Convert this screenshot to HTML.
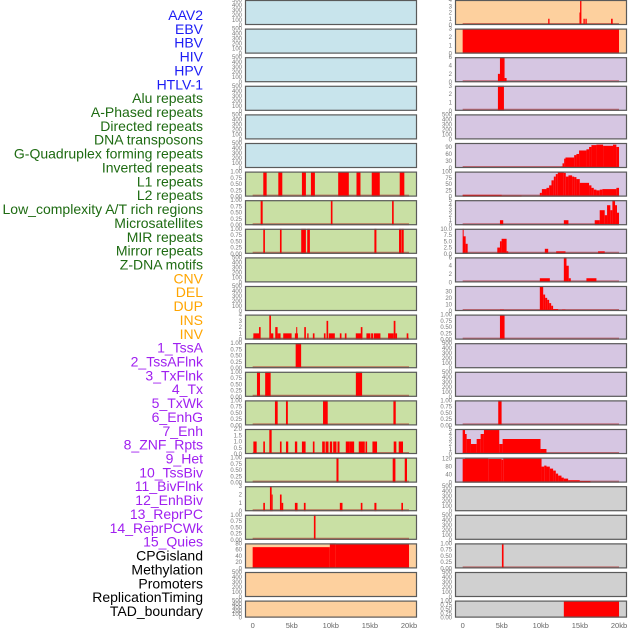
<!DOCTYPE html>
<html><head><meta charset="utf-8"><style>
html,body{margin:0;padding:0;background:#fff;}
svg{display:block;font-family:"Liberation Sans",sans-serif;}
</style></head><body>
<svg id="chart" width="630" height="630" viewBox="0 0 630 630"></svg>
<script>
const trackLabels = ["AAV2","EBV","HBV","HIV","HPV","HTLV-1","Alu repeats","A-Phased repeats","Directed repeats","DNA transposons","G-Quadruplex forming repeats","Inverted repeats","L1 repeats","L2 repeats","Low_complexity A/T rich regions","Microsatellites","MIR repeats","Mirror repeats","Z-DNA motifs","CNV","DEL","DUP","INS","INV","1_TssA","2_TssAFlnk","3_TxFlnk","4_Tx","5_TxWk","6_EnhG","7_Enh","8_ZNF_Rpts","9_Het","10_TssBiv","11_BivFlnk","12_EnhBiv","13_ReprPC","14_ReprPCWk","15_Quies","CPGisland","Methylation","Promoters","ReplicationTiming","TAD_boundary"];
const labelGroupSizes = [6,13,5,15,5];
const labelGroupColors = ["#1c1cf5","#1e6b12","#ffa500","#a020f0","#000000"];
const xTicks = [0,5,10,15,20];
const xTickLabels = ["0","5kb","10kb","15kb","20kb"];

// bars: [startKb, endKb, value]
const barsL6 = [[1.36,1.79,1],[3.28,3.79,1],[6.3,6.81,1],[7.45,7.96,1],[10.94,12.3,1],[13.28,13.79,1],[15.23,16.26,1],[18.81,19.4,1]];
const barsL7 = [[1.02,1.28,1],[10.0,10.21,1],[17.83,18.04,1]];
const barsL8 = [[1.36,1.57,1],[3.49,3.7,1],[6.21,6.81,1],[6.98,7.32,1],[15.57,15.83,1],[18.72,19.02,1],[19.06,19.32,1]];
const barsL11 = [[0.09,0.94,1],[0.81,1.02,2],[2.13,2.34,4],[2.34,2.64,1],[2.89,3.19,2],[3.19,3.36,1],[3.36,3.57,1],[3.91,4.98,1],[5.4,5.79,1],[5.57,5.7,2],[6.6,6.81,2],[6.98,7.15,1],[7.7,7.91,1],[9.11,9.32,1],[9.45,9.66,3],[9.74,10.51,1],[11.15,11.36,1],[11.79,12.0,1],[13.19,14.0,1],[13.83,14.04,2],[14.55,15.06,1],[15.15,15.4,1],[15.49,16.34,1],[17.32,18.04,1],[18.04,18.26,3],[18.26,18.47,1],[19.7,19.91,1]];
const barsL12 = [[5.5,6.2,1]];
const barsL13 = [[0.55,0.94,1],[1.6,2.3,1],[13.2,14.0,1]];
const barsL14 = [[2.85,3.2,1],[4.26,4.5,1],[9.0,9.6,1],[18.0,18.3,1]];
const barsL15 = [[0.09,0.51,1],[1.36,1.57,1],[2.13,2.43,2],[3.49,3.7,1],[4.26,4.55,1],[5.4,5.7,1],[6.3,6.77,1],[7.7,7.91,1],[8.89,9.23,1],[9.32,9.7,1],[9.87,10.17,1],[10.3,10.72,1],[10.85,11.11,1],[11.91,12.43,1],[12.43,12.98,1],[13.57,14.34,1],[14.43,14.64,1],[15.32,15.91,1],[18.04,18.38,1],[18.68,19.23,1]];
const barsL16 = [[10.72,10.98,1],[17.91,18.26,1],[19.45,19.74,1]];
const barsL17 = [[1.36,1.57,1],[2.21,2.43,3],[2.43,2.55,2],[3.49,3.7,2],[3.7,3.91,1],[5.4,5.74,1],[6.55,6.77,1],[11.15,11.49,1],[13.83,14.04,1],[15.57,15.83,1],[19.02,19.23,1]];
const barsL18 = [[7.83,8.04,1]];
const barsL19 = [[0,9.87,68],[9.87,10.64,80],[10.64,20,78]];
const barsR0 = [[10.94,11.11,1],[14.94,15.02,2],[15.02,15.19,4],[15.45,15.62,1],[15.7,15.87,1],[18.98,19.19,1]];
const barsR1 = [[0,20,3]];
const barsR2 = [[4.51,4.77,2],[4.77,5.36,6],[5.36,5.62,1]];
const barsR3 = [[4.51,5.28,3]];
const barsR5 = [[12.55,12.77,5],[12.77,12.98,20],[12.98,13.15,40],[13.15,14.26,45],[14.26,14.55,55],[14.55,14.89,60],[14.89,15.83,75],[15.83,16.17,80],[16.17,16.47,90],[16.47,17.11,98],[17.11,17.96,100],[17.96,19.23,95],[19.23,19.66,100],[19.66,20,90]];
const barsR6 = [[0,5.0,7],[5.0,7.53,5],[9.87,10.13,15],[10.13,10.72,30],[10.72,11.06,35],[11.06,11.36,45],[11.36,11.66,65],[11.66,11.91,80],[11.91,12.17,90],[12.17,12.94,100],[12.94,13.19,95],[13.19,13.53,80],[13.53,14.0,85],[14.0,14.26,80],[14.26,14.55,78],[14.55,14.98,70],[14.98,16.17,55],[16.17,16.47,45],[16.47,16.77,35],[16.77,17.11,28],[17.11,17.53,25],[17.53,17.87,28],[17.87,19.66,30],[19.66,20,35]];
const barsR7 = [[4.77,5.19,1],[12.94,13.53,1],[16.89,17.53,1],[17.53,18.17,3],[18.17,18.47,2],[18.47,18.89,4],[18.89,19.15,3],[19.15,19.49,5],[19.49,19.74,4],[19.74,20,2.5]];
const barsR8 = [[0,0.09,10],[0.09,0.38,7],[0.38,0.64,4],[4.43,4.77,2.5],[4.77,4.98,5],[4.98,5.62,6],[5.62,5.83,1],[10.51,10.94,2],[11.96,13.15,1],[17.32,18.17,1]];
const barsR9 = [[9.87,11.15,1],[12.94,13.28,6],[13.28,13.57,4],[13.57,13.83,1],[15.83,17.11,1]];
const barsR10 = [[3.23,4.77,1],[4.77,5.28,2],[9.87,10.3,38],[10.3,10.55,25],[10.55,10.81,20],[10.81,11.06,17],[11.06,11.32,12],[11.32,11.57,8],[11.57,12.21,3],[12.21,12.43,1],[12.72,13.15,2]];
const barsR11 = [[4.77,5.36,1]];
const barsR14 = [[4.55,4.98,1]];
const barsR15 = [[0,0.3,5],[0.3,0.51,4],[0.51,1.06,3],[1.06,1.79,2],[1.79,2.3,3],[2.3,2.72,4],[2.72,4.68,5],[4.68,5.11,2],[5.11,9.96,3],[9.96,10.72,1]];
const barsR16 = [[0,0.3,118],[0.3,3.28,120],[3.28,4.98,118],[4.98,5.19,115],[5.19,10.09,120],[10.09,10.43,80],[10.43,10.72,85],[10.72,11.15,80],[11.15,11.57,70],[11.57,11.91,60],[11.91,12.21,45],[12.21,12.64,35],[12.64,12.94,25],[12.94,13.49,20],[13.49,14.98,12],[14.98,16.34,8]];
const barsR19 = [[5.02,5.23,1]];
const barsR21 = [[12.94,20,1]];

const t01 = [0,0.25,0.5,0.75,1], t01L = ["0.00","0.25","0.50","0.75","1.00"];
const tE = [0,100,200,300,400,500], tEL = ["0","100","200","300","400","500"];
const BLUE="#c8e4ec", GREEN="#c9e0a4", ORANGE="#fdd09e", PURPLE="#d6c6e2", GREY="#d0d0d0";

const panels = [
 // left column
 {c:0,r:0,bg:BLUE,ym:500,t:tE,tl:tEL,b:null},
 {c:0,r:1,bg:BLUE,ym:500,t:tE,tl:tEL,b:null},
 {c:0,r:2,bg:BLUE,ym:500,t:tE,tl:tEL,b:null},
 {c:0,r:3,bg:BLUE,ym:500,t:tE,tl:tEL,b:null},
 {c:0,r:4,bg:BLUE,ym:500,t:tE,tl:tEL,b:null},
 {c:0,r:5,bg:BLUE,ym:500,t:tE,tl:tEL,b:null},
 {c:0,r:6,bg:GREEN,ym:1,t:t01,tl:t01L,b:barsL6},
 {c:0,r:7,bg:GREEN,ym:1,t:t01,tl:t01L,b:barsL7},
 {c:0,r:8,bg:GREEN,ym:1,t:t01,tl:t01L,b:barsL8},
 {c:0,r:9,bg:GREEN,ym:500,t:tE,tl:tEL,b:null},
 {c:0,r:10,bg:GREEN,ym:500,t:tE,tl:tEL,b:null},
 {c:0,r:11,bg:GREEN,ym:4,t:[0,1,2,3,4],tl:["0","1","2","3","4"],b:barsL11},
 {c:0,r:12,bg:GREEN,ym:1,t:t01,tl:t01L,b:barsL12},
 {c:0,r:13,bg:GREEN,ym:1,t:t01,tl:t01L,b:barsL13},
 {c:0,r:14,bg:GREEN,ym:1,t:t01,tl:t01L,b:barsL14},
 {c:0,r:15,bg:GREEN,ym:2,t:[0,0.5,1,1.5,2],tl:["0.0","0.5","1.0","1.5","2.0"],b:barsL15},
 {c:0,r:16,bg:GREEN,ym:1,t:t01,tl:t01L,b:barsL16},
 {c:0,r:17,bg:GREEN,ym:3,t:[0,1,2,3],tl:["0","1","2","3"],b:barsL17},
 {c:0,r:18,bg:GREEN,ym:1,t:t01,tl:t01L,b:barsL18},
 {c:0,r:19,bg:ORANGE,ym:80,t:[0,20,40,60,80],tl:["0","20","40","60","80"],b:barsL19,nobase:true},
 {c:0,r:20,bg:ORANGE,ym:500,t:tE,tl:tEL,b:null},
 {c:0,r:21,bg:ORANGE,ym:500,t:tE,tl:tEL,b:null},
 // right column
 {c:1,r:0,bg:ORANGE,ym:4,t:[0,1,2,3,4],tl:["0","1","2","3","4"],b:barsR0},
 {c:1,r:1,bg:ORANGE,ym:3,t:[0,1,2,3],tl:["0","1","2","3"],b:barsR1,nobase:true},
 {c:1,r:2,bg:PURPLE,ym:6,t:[0,2,4,6],tl:["0","2","4","6"],b:barsR2},
 {c:1,r:3,bg:PURPLE,ym:3,t:[0,1,2,3],tl:["0","1","2","3"],b:barsR3},
 {c:1,r:4,bg:PURPLE,ym:500,t:tE,tl:tEL,b:null},
 {c:1,r:5,bg:PURPLE,ym:107,t:[0,30,60,90],tl:["0","30","60","90"],b:barsR5},
 {c:1,r:6,bg:PURPLE,ym:100,t:[0,25,50,75,100],tl:["0","25","50","75","100"],b:barsR6},
 {c:1,r:7,bg:PURPLE,ym:5,t:[0,1,2,3,4,5],tl:["0","1","2","3","4","5"],b:barsR7},
 {c:1,r:8,bg:PURPLE,ym:10,t:[0,2.5,5,7.5,10],tl:["0.0","2.5","5.0","7.5","10.0"],b:barsR8},
 {c:1,r:9,bg:PURPLE,ym:6,t:[0,2,4,6],tl:["0","2","4","6"],b:barsR9},
 {c:1,r:10,bg:PURPLE,ym:38,t:[0,10,20,30],tl:["0","10","20","30"],b:barsR10},
 {c:1,r:11,bg:PURPLE,ym:1,t:t01,tl:t01L,b:barsR11},
 {c:1,r:12,bg:PURPLE,ym:500,t:tE,tl:tEL,b:null},
 {c:1,r:13,bg:PURPLE,ym:500,t:tE,tl:tEL,b:null},
 {c:1,r:14,bg:PURPLE,ym:1,t:t01,tl:t01L,b:barsR14},
 {c:1,r:15,bg:PURPLE,ym:5,t:[0,1,2,3,4,5],tl:["0","1","2","3","4","5"],b:barsR15},
 {c:1,r:16,bg:PURPLE,ym:125,t:[0,40,80,120],tl:["0","40","80","120"],b:barsR16},
 {c:1,r:17,bg:GREY,ym:500,t:tE,tl:tEL,b:null},
 {c:1,r:18,bg:GREY,ym:500,t:tE,tl:tEL,b:null},
 {c:1,r:19,bg:GREY,ym:1,t:t01,tl:t01L,b:barsR19},
 {c:1,r:20,bg:GREY,ym:500,t:tE,tl:tEL,b:null},
 {c:1,r:21,bg:GREY,ym:1,t:t01,tl:t01L,b:barsR21,nobase:true}
];

const NS="http://www.w3.org/2000/svg";
const svg=document.getElementById('chart');
function mk(tag,attrs,parent){const e=document.createElementNS(NS,tag);for(const k in attrs)e.setAttribute(k,attrs[k]);(parent||svg).appendChild(e);return e;}
const colX=[245,455], PW=172, ROWSTEP=28.6;
function xs(c,kb){return colX[c]+(kb+0.98)*PW/22;}
function rowTop(r){return r*ROWSTEP;}
function rowH(r){return r===21?17:25;}

// labels
let gi=0,cnt=0;
trackLabels.forEach((lab,i)=>{
  while(cnt>=labelGroupSizes[gi]){gi++;cnt=0;}
  cnt++;
  const t=mk('text',{x:203,y:(15+i*13.86+5).toFixed(1),'text-anchor':'end','font-size':14,fill:labelGroupColors[gi]});
  t.textContent=lab;
  
  
});

panels.forEach(p=>{
  const g=mk('g',{});
  
  
  const x0=colX[p.c], y0=rowTop(p.r), h=rowH(p.r);
  const ys=v=>y0+h-v/p.ym*h;
  mk('rect',{x:x0,y:y0,width:PW,height:h,fill:p.bg},g);
  if(p.b && !p.nobase){
    const bl=mk('line',{x1:xs(p.c,0),x2:xs(p.c,20),y1:y0+h-1,y2:y0+h-1,stroke:'rgba(170,20,20,0.55)','stroke-width':2},g);
    
    
  }
  if(p.b){
    p.b.forEach(d=>{
      const xa=xs(p.c,d[0]), xb=xs(p.c,d[1]);
      const yt=Math.max(y0,ys(d[2]));
      const r=mk('rect',{x:xa.toFixed(2),y:yt.toFixed(2),width:Math.max(1,xb-xa).toFixed(2),height:(y0+h-yt).toFixed(2),fill:'#ff0000'},g);
      
      
    });
  }
  mk('rect',{x:x0+0.5,y:y0+0.5,width:PW-1,height:h-1,fill:'none',stroke:'#5a5a5a','stroke-width':1.2},g);
  p.t.forEach((tv,k)=>{
    const tt=mk('text',{x:x0-3,y:(ys(tv)+2).toFixed(1),'text-anchor':'end','font-size':6,fill:'#777'},g);
    tt.textContent=p.tl[k];
    
    
  });
});

[0,1].forEach(c=>{
  xTicks.forEach((v,k)=>{
    const t=mk('text',{x:xs(c,v).toFixed(1),y:628,'text-anchor':'middle','font-size':7.5,fill:'#666'});
    t.textContent=xTickLabels[k];
    
    
  });
});
</script>
</body></html>
